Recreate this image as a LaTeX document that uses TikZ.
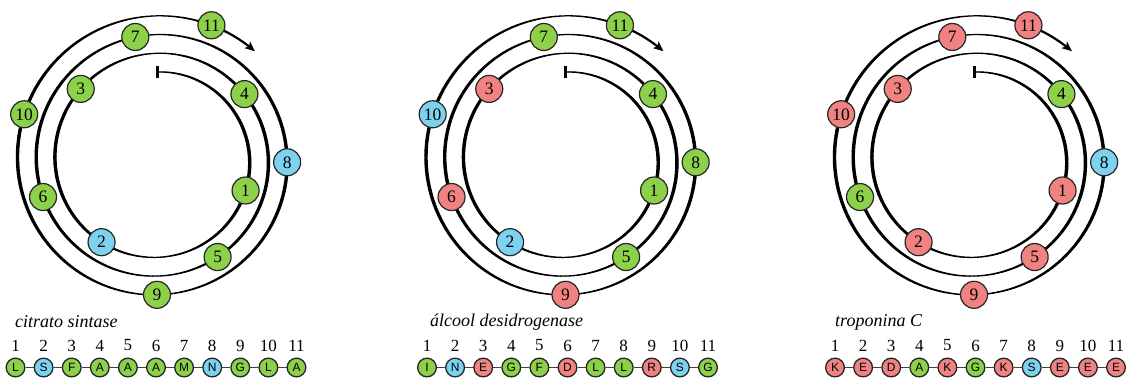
\documentclass[tikz,border=0pt]{standalone}
\usepackage{fontspec}
\setmainfont{Liberation Serif}
\setsansfont{Liberation Sans}
\usetikzlibrary{arrows.meta}

\definecolor{resgreen}{RGB}{141,208,74}
\definecolor{resblue}{RGB}{125,210,240}
\definecolor{resred}{RGB}{240,130,130}

\tikzset{
  wheelres/.style={circle, draw=black!85, line width=1.2pt, fill=#1,
    minimum size=27pt, inner sep=0pt, font=\fontsize{17.5}{17.5}\selectfont},
  seqres/.style={circle, draw=black!85, line width=1.3pt, fill=#1,
    minimum size=18.7pt, inner sep=0pt, font=\sffamily\fontsize{12}{12}\selectfont},
  seqnum/.style={inner sep=0pt, font=\fontsize{17}{17}\selectfont},
  seqtitle/.style={anchor=west, inner sep=0pt, font=\itshape\fontsize{18}{18}\selectfont},
  seqlink/.style={line width=0.8pt, black!75},
  startbar/.style={line width=3pt},
}

% Archimedean spiral of a helical wheel: r = 88 + 0.052*t, polar angle 90 - t
% #1 centre x, #2 node prefix, #3 list of residue/angle/colour triples
\newcommand\helixwheel[3]{%
  \foreach \t in {0,2,...,1106} {
    \pgfmathsetmacro\tb{\t+2}
    \pgfmathsetmacro\lw{1.2+2.2*abs(cos(90-\t-1))}
    \pgfmathsetmacro\ra{88+0.052*\t}
    \pgfmathsetmacro\rb{88+0.052*\tb}
    \pgfmathsetmacro\xa{#1+\ra*cos(90-\t)}
    \pgfmathsetmacro\ya{160-\ra*sin(90-\t)}
    \pgfmathsetmacro\xb{#1+\rb*cos(90-\tb)}
    \pgfmathsetmacro\yb{160-\rb*sin(90-\tb)}
    \draw[line width=\lw pt, line cap=round] (\xa,\ya) -- (\xb,\yb);
  }
  \draw[line width=2.2pt, -{Stealth[length=10pt,width=8.5pt,inset=2.5pt]}]
    plot[domain=1104:1122, samples=12, variable=\u]
    ({#1+(88+0.052*\u)*cos(90-\u)},{160-(88+0.052*\u)*sin(90-\u)});
  \coordinate (#2-start) at (#1,72);
  \draw[startbar] ([yshift=-6pt]#2-start) -- ([yshift=6pt]#2-start);
  \foreach \n/\th/\c in {#3} {
    \pgfmathsetmacro\rr{88+0.052*\th}
    \pgfmathsetmacro\xx{#1+\rr*cos(90-\th)}
    \pgfmathsetmacro\yy{160-\rr*sin(90-\th)}
    \node[wheelres=\c] (#2-\n) at (\xx,\yy) {\n};
  }
}

% Sequence strip: #1 first x, #2 prefix, #3 list of residue/colour/letter
\newcommand\seqstrip[3]{%
  \foreach \n/\c/\l in {#3} {
    \pgfmathsetmacro\sx{#1+28.1*(\n-1)}
    \node[seqnum] (#2n-\n) at (\sx,345.5) {\n};
    \node[seqres=\c] (#2-\n) at (\sx,367.5) {\l};
  }
  \foreach \n [evaluate=\n as \m using int(\n+1)] in {1,...,10}
    \draw[seqlink] (#2-\n) -- (#2-\m);
}

\begin{document}
\begin{tikzpicture}[x=1pt, y=-1pt]
\useasboundingbox (0,0) rectangle (1129,381);

% citrato sintase
\helixwheel{157}{a}{1/109/resgreen, 2/214/resblue, 3/313/resgreen, 4/413/resgreen,
  5/508/resgreen, 6/612/resgreen, 7/710/resgreen, 8/811/resblue,
  9/900/resgreen, 10/1009/resgreen, 11/1102/resgreen}
\node[seqtitle] (ta) at (15,322) {citrato sintase};
\seqstrip{15.5}{sa}{1/resgreen/L, 2/resblue/S, 3/resgreen/F, 4/resgreen/A,
  5/resgreen/A, 6/resgreen/A, 7/resgreen/M, 8/resblue/N, 9/resgreen/G,
  10/resgreen/L, 11/resgreen/A}

% álcool desidrogenase
\helixwheel{565.5}{b}{1/109/resgreen, 2/214/resblue, 3/313/resred, 4/413/resgreen,
  5/508/resgreen, 6/612/resred, 7/710/resgreen, 8/811/resgreen,
  9/900/resred, 10/1009/resblue, 11/1102/resgreen}
\node[seqtitle] (tb) at (430,322) {álcool desidrogenase};
\seqstrip{427}{sb}{1/resgreen/I, 2/resblue/N, 3/resred/E, 4/resgreen/G,
  5/resgreen/F, 6/resred/D, 7/resgreen/L, 8/resgreen/L, 9/resred/R,
  10/resblue/S, 11/resgreen/G}

% troponina C
\helixwheel{974}{c}{1/109/resred, 2/214/resred, 3/313/resred, 4/413/resgreen,
  5/508/resred, 6/612/resgreen, 7/710/resred, 8/811/resblue,
  9/900/resred, 10/1009/resred, 11/1102/resred}
\node[seqtitle] (tc) at (835,322) {troponina C};
\seqstrip{835}{sc}{1/resred/K, 2/resred/E, 3/resred/D, 4/resgreen/A,
  5/resred/K, 6/resgreen/G, 7/resred/K, 8/resblue/S, 9/resred/E,
  10/resred/E, 11/resred/E}
\end{tikzpicture}
\end{document}
